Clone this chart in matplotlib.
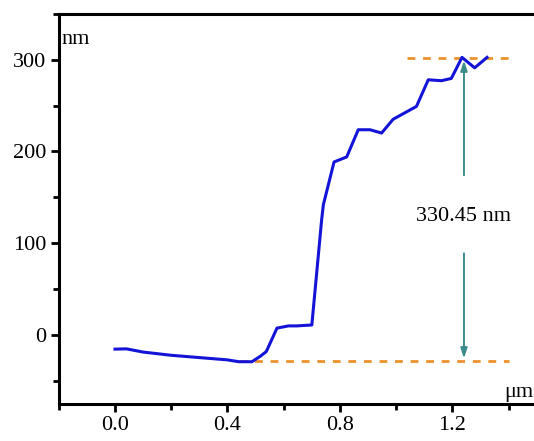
import matplotlib
matplotlib.use("Agg")
import matplotlib.pyplot as plt
from matplotlib.ticker import MultipleLocator

# profile (um, nm)
x_um = [0.0, 0.041, 0.1, 0.2, 0.3, 0.4, 0.44, 0.487, 0.517, 0.538, 0.576,
        0.617, 0.647, 0.70, 0.735, 0.741, 0.779, 0.824, 0.865, 0.907, 0.948,
        0.989, 1.072, 1.114, 1.161, 1.196, 1.234, 1.279, 1.323]
h_nm = [-15.3, -15.0, -18.5, -22.0, -24.5, -27.0, -29.0, -29.0, -23.0, -18.0,
        7.6, 10.0, 10.0, 11.0, 126.0, 142.0, 188.5, 194.0, 223.6, 223.6,
        220.0, 235.0, 249.0, 278.0, 277.0, 279.5, 302.4, 291.0, 302.4]

top_level = 302.0
bottom_level = -28.45
top_span = [1.037, 1.415]
bottom_span = [0.44, 1.40]
arrow_x = 1.241
step_label = "330.45 nm"

plt.rcParams["font.family"] = ["Liberation Serif", "DejaVu Serif"]

fig = plt.figure(figsize=(5.34, 4.41), dpi=100)
ax = fig.add_axes([0.11, 0.084, 0.89, 0.885])

ax.plot(x_um, h_nm, color="#1414d8", linewidth=2.2, zorder=3)
ax.plot(top_span, [top_level, top_level], color="#ec922c", linewidth=2.0,
        linestyle=(0, (2.8, 2.8)), zorder=2)
ax.plot(bottom_span, [bottom_level, bottom_level], color="#ec922c", linewidth=2.0,
        linestyle=(0, (2.8, 2.8)), zorder=2)

arrow_kw = dict(arrowstyle="-|>,head_length=0.6,head_width=0.2",
                color="#3d8c8c", linewidth=1.4)
ax.annotate("", xy=(arrow_x, top_level), xytext=(arrow_x, 171), arrowprops=arrow_kw)
ax.annotate("", xy=(arrow_x, bottom_level), xytext=(arrow_x, 92), arrowprops=arrow_kw)
ax.text(arrow_x, 129, step_label, ha="center", va="center", fontsize=16)

ax.set_xlim(-0.2, 1.49)
ax.set_ylim(-75, 350)
ax.xaxis.set_major_locator(MultipleLocator(0.4))
ax.xaxis.set_minor_locator(MultipleLocator(0.2))
ax.yaxis.set_major_locator(MultipleLocator(100))
ax.yaxis.set_minor_locator(MultipleLocator(50))
ax.xaxis.set_major_formatter(plt.FuncFormatter(lambda v, p: f"{v:.1f}"))

ax.spines["right"].set_visible(False)
for s in ["left", "bottom", "top"]:
    ax.spines[s].set_linewidth(2.2)
ax.tick_params(which="both", direction="out", width=2.0, labelsize=16,
               top=False, right=False)
ax.tick_params(which="major", length=6, pad=3)
ax.tick_params(which="minor", length=4)

ax.text(0.005, 0.935, "nm", transform=ax.transAxes, fontsize=16,
        ha="left", va="center")
ax.text(0.999, 0.03, "μm", transform=ax.transAxes, fontsize=16,
        ha="right", va="center")

fig.savefig("out.png", dpi=100)
